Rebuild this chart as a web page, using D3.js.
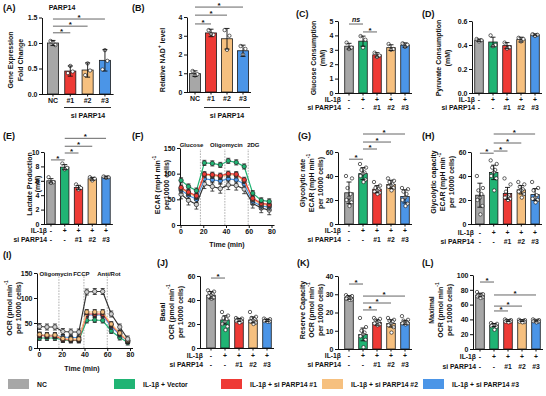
<!DOCTYPE html>
<html><head><meta charset="utf-8">
<script src="https://cdn.jsdelivr.net/npm/d3@7"></script>
<style>
body{margin:0;background:#fff}
svg text{font-family:"Liberation Sans",Arial,Helvetica,sans-serif;font-weight:bold;fill:#111}
</style></head>
<body><svg id="chart" width="546" height="396"></svg>
<script>
// ================= DATA =================
const groupNames = ["NC", "IL-1β + Vector", "IL-1β + si PARP14 #1", "IL-1β + si PARP14 #2", "IL-1β + si PARP14 #3"];
const groupColors = ["#a7a7a7", "#20b474", "#ee3a35", "#f6c07f", "#4b95e7"];
const il1bRow = ["-", "+", "+", "+", "+"];
const siRow = ["-", "-", "#1", "#2", "#3"];

// (A) PARP14 expression
const A_cats = ["NC", "#1", "#2", "#3"];
const A_mean = [1.00, 0.45, 0.47, 0.66];
const A_sd = [0.05, 0.10, 0.14, 0.21];
const A_pts = [[1.04, 0.96, 1.01], [0.41, 0.44, 0.55], [0.37, 0.46, 0.60], [0.48, 0.65, 0.86]];
const A_ticks = [0, 0.5, 1.0, 1.5];
const A_sig = [[0, 1, 1.20, "*"], [0, 2, 1.33, "*"], [0, 3, 1.47, "*"]];

// (B) NAD+
const B_mean = [0.98, 3.15, 2.84, 2.2];
const B_sd = [0.15, 0.2, 0.55, 0.3];
const B_pts = [[1.12, 0.95, 0.88], [3.3, 3.05, 3.1], [3.3, 3.0, 2.25], [2.45, 2.3, 2.0]];
const B_ticks = [0, 1, 2, 3, 4];
const B_sig = [[0, 1, 3.63, "*"], [0, 2, 4.1, "*"], [0, 3, 4.53, "*"]];

// (C) Glucose consumption
const C_mean = [3.25, 3.6, 2.65, 3.15, 3.33];
const C_sd = [0.2, 0.35, 0.15, 0.2, 0.15];
const C_pts = [[3.5, 3.15, 3.05], [3.95, 3.7, 3.15], [2.8, 2.6, 2.5], [3.4, 3.05, 3.0], [3.45, 3.35, 3.2]];
const C_ticks = [0, 1, 2, 3, 4, 5];
const C_sig = [[0, 1, 4.79, "ns"], [1, 2, 4.24, "*"]];

// (D) Pyruvate consumption
const D_mean = [0.44, 0.425, 0.395, 0.445, 0.485];
const D_sd = [0.01, 0.04, 0.025, 0.02, 0.008];
const D_pts = [[0.45, 0.44, 0.43], [0.48, 0.40, 0.39], [0.42, 0.38, 0.37], [0.46, 0.45, 0.43], [0.49, 0.485, 0.475]];
const D_ticks = [0, 0.2, 0.4, 0.6];

// (E) Lactate production
const E_mean = [6.0, 7.9, 5.07, 6.28, 6.5];
const E_sd = [0.3, 0.35, 0.3, 0.2, 0.15];
const E_pts = [[6.5, 5.8, 5.7], [8.4, 7.8, 7.6], [5.5, 5.0, 4.8], [6.5, 6.3, 6.05], [6.6, 6.5, 6.4]];
const E_ticks = [0, 2, 4, 6, 8, 10];
const E_sig = [[0, 1, 8.9, "*"], [1, 2, 9.86, "*"], [1, 3, 10.8, "*"], [1, 4, 11.9, "*"]];

// (F) ECAR time course
const F_times = [0.5, 7, 14, 21, 28, 35, 42, 49, 56, 63.5, 71, 78];
const F_series = [
  [60, 48, 40, 80, 75, 71, 78, 77, 70, 42, 33, 29],     // NC
  [87, 75, 67, 121, 120, 117, 125, 122, 114, 62, 48, 46], // IL-1β + Vector
  [73, 64, 57, 99, 98, 96, 100, 99, 88, 52, 42, 40],   // #1
  [71, 62, 55, 97, 96, 94, 98, 97, 86, 50, 40, 38],    // #2
  [68, 58, 50, 90, 88, 86, 90, 88, 80, 46, 37, 35]     // #3
];
const F_sd = [9, 5, 5, 5, 6];
const F_inj = [17.5, 39, 59.5];
const F_injNames = ["Glucose", "Oligomycin", "2DG"];
const F_xticks = [0, 20, 40, 60, 80];
const F_yticks = [0, 50, 100, 150];

// (G) Glycolytic rate
const G_mean = [26, 42, 29, 33, 23];
const G_sd = [9, 5, 3, 3.5, 5.5];
const G_pts = [[40, 38, 30, 25, 22, 20, 18, 15], [50, 47, 45, 43, 42, 40, 37, 35], [35, 32, 30, 29, 28, 27, 26, 25],
               [38, 36, 35, 33, 32, 31, 30, 28], [30, 29, 27, 25, 22, 20, 17, 15]];
const G_ticks = [0, 20, 40, 60];
const G_sig = [[0, 1, 54, "*"], [1, 2, 62.5, "*"], [1, 3, 68.3, "*"], [1, 4, 75, "*"]];

// (H) Glycolytic capacity
const H_mean = [24, 43, 25.5, 28.5, 24.5];
const H_sd = [10, 6, 5, 3.5, 5];
const H_pts = [[40, 30, 28, 25, 22, 20, 15, 8], [53, 50, 47, 45, 43, 40, 38, 28], [38, 33, 27, 24, 23, 22, 21, 20],
               [35, 33, 31, 29, 28, 27, 25, 22], [35, 30, 28, 24, 22, 21, 20, 18]];
const H_ticks = [0, 20, 40, 60];
const H_sig = [[0, 1, 59, "*"], [1, 2, 60.8, "*"], [1, 3, 67.5, "*"], [1, 4, 75, "*"]];

// (I) OCR time course
const I_times = F_times;
const I_series = [
  [43, 42, 42, 33, 32, 32, 112, 113, 113, 68, 42, 18],
  [20, 20, 20, 16, 15, 15, 55, 56, 55, 34, 21, 11],
  [25, 24, 24, 17, 16, 16, 68, 68, 68, 46, 29, 14],
  [27, 26, 26, 19, 18, 18, 72, 72, 72, 48, 30, 15],
  [26, 25, 25, 22, 21, 21, 66, 66, 66, 43, 27, 14]
];
const I_sd = [6, 5, 5, 5, 5];
const I_inj = [17.5, 39.5, 60];
const I_injNames = ["Oligomycin", "FCCP", "Anti/Rot"];

// (J) Basal OCR
const J_mean = [44, 23.4, 23.4, 23.4, 22.9];
const J_sd = [3, 3.5, 1.2, 2.5, 0.8];
const J_pts = [[48, 47, 46, 45, 44, 43, 42, 41], [30, 27, 25, 24, 22, 20, 18, 15], [25, 24.5, 24, 23.5, 23, 22.5, 22, 21],
               [30, 26, 25, 24, 23, 22, 21, 20], [24.5, 24, 23.5, 23, 23, 22.5, 22, 22]];
const J_ticks = [0, 20, 40, 60];
const J_sig = [[0, 1, 58.3, "*"]];

// (K) Reserve capacity
const K_mean = [28.2, 8, 14.5, 14, 14.5];
const K_sd = [1, 3.5, 1.5, 2, 1];
const K_pts = [[29.5, 29, 28.5, 28, 28, 27.5, 27, 27], [17, 12, 10, 9, 8, 7, 5, 1], [17, 16.5, 16, 15, 14.5, 14, 13.5, 13],
               [17, 16, 15.5, 15, 14, 13, 12, 9], [18, 16, 15.5, 15, 14.5, 14, 14, 13.5]];
const K_ticks = [0, 10, 20, 30, 40];
const K_sig = [[0, 1, 35.6, "*"], [1, 2, 21.4, "*"], [1, 3, 25.2, "*"], [1, 4, 29, "*"]];

// (L) Maximal OCR
const L_mean = [73, 32.4, 38.3, 38.3, 37.8];
const L_sd = [2.5, 2, 1.2, 1.2, 1.2];
const L_pts = [[77, 74, 73, 72, 72, 71, 70, 69], [35, 34, 33, 32, 32, 31, 30, 26], [40, 39, 38.5, 38, 37.5, 37, 37, 36],
               [39.5, 39, 38, 38, 37.5, 37, 36.5, 36], [40, 39, 38.5, 38, 38, 37.5, 37, 36]];
const L_ticks = [0, 20, 40, 60, 80, 100];
const L_sig = [[0, 1, 90.5, "*"], [1, 2, 51.4, "*"], [1, 3, 58, "*"], [1, 4, 73, "*"]];

// ================= DRAWING =================
const svg = d3.select("#chart");
const JIT3 = [-2.4, 2.4, 0];
const JIT8 = [-3, 3, -1.5, 1.5, 0, -2.5, 2.5, 0.5];

function rich(sel, str, size) {
  const parts = str.split(/(\^\{[^}]*\})/).filter(p => p);
  let up = false;
  parts.forEach(p => {
    const m = p.match(/^\^\{([^}]*)\}$/);
    if (m) { sel.append("tspan").attr("dy", -size * 0.38).style("font-size", (size * 0.7) + "px").text(m[1]); up = true; }
    else { const t = sel.append("tspan").text(p); if (up) { t.attr("dy", size * 0.38); up = false; } }
  });
}
function tag(t, x, y) {
  svg.append("text").attr("x", x).attr("y", y).style("font-size", "9px").text(t);
}
function yLabel(xs, cy, lines, size = 7) {
  lines.forEach((s, i) => {
    const t = svg.append("text").attr("transform", `translate(${xs[i]},${cy}) rotate(-90)`)
      .attr("text-anchor", "middle").attr("dominant-baseline", "central").style("font-size", size + "px");
    rich(t, s, size);
  });
}
function styleAxis(a) {
  a.selectAll(".domain").attr("stroke", "#111").attr("stroke-width", 1);
  a.selectAll(".tick line").attr("stroke", "#111").attr("stroke-width", 1);
  a.selectAll(".tick text").style("font-size", "7px").attr("fill", "#111");
}

function barPanel(L, D) {
  const g = svg.append("g");
  const n = D.mean.length;
  const y = d3.scaleLinear().domain([0, D.max]).range([L.y0, L.y1]);
  const x = d3.scaleBand().domain(d3.range(n)).range([L.r0, L.r1]).paddingInner(L.pad).paddingOuter(L.pad / 2);
  const bw = x.bandwidth(), cx = i => x(i) + bw / 2;
  const cols = D.colors;
  g.selectAll("rect").data(D.mean).join("rect")
    .attr("x", (d, i) => x(i)).attr("y", d => y(d)).attr("width", bw).attr("height", d => L.y0 - y(d))
    .attr("fill", (d, i) => cols[i]).attr("stroke", "#1a1a1a").attr("stroke-width", 0.8);
  D.pts.forEach((arr, i) => arr.forEach((v, j) => {
    const jit = arr.length === 3 ? JIT3 : JIT8;
    g.append("circle").attr("cx", cx(i) + jit[j % jit.length]).attr("cy", y(v)).attr("r", 1.7)
      .attr("fill", "#fff").attr("stroke", "#222").attr("stroke-width", 0.7);
  }));
  D.mean.forEach((m, i) => {
    const t = y(m + D.sd[i]), b = y(Math.max(0, m - D.sd[i]));
    g.append("line").attr("x1", cx(i)).attr("x2", cx(i)).attr("y1", t).attr("y2", b).attr("stroke", "#111").attr("stroke-width", 0.9);
    [t, b].forEach(yy => g.append("line").attr("x1", cx(i) - 2.5).attr("x2", cx(i) + 2.5).attr("y1", yy).attr("y2", yy).attr("stroke", "#111").attr("stroke-width", 0.9));
  });
  const ya = g.append("g").attr("transform", `translate(${L.ax},0)`)
    .call(d3.axisLeft(y).tickValues(D.ticks).tickSize(3).tickSizeOuter(0).tickPadding(1.5).tickFormat(d3.format(D.fmt)));
  const xa = g.append("g").attr("transform", `translate(0,${L.y0})`)
    .call(d3.axisBottom(x).tickSize(2.5).tickSizeOuter(0).tickPadding(1.5).tickFormat(L.cats ? (i => L.cats[i]) : ""));
  xa.select(".domain").attr("d", `M${L.ax},0.5H${L.r1}`);
  styleAxis(ya); styleAxis(xa);
  if (L.rowY) {
    [["IL-1β", il1bRow], ["si PARP14", siRow]].forEach(([name, vals], r) => {
      const yy = L.rowY[r];
      g.append("text").attr("x", L.ax + 3).attr("y", yy).attr("text-anchor", "end").style("font-size", "6.8px").text(name);
      vals.forEach((v, i) => g.append("text").attr("x", cx(i)).attr("y", yy).attr("text-anchor", "middle").style("font-size", "6.8px").text(v));
    });
  }
  (D.sig || []).forEach(([a, b, lv, s]) => {
    const yy = y(lv);
    g.append("line").attr("x1", cx(a)).attr("x2", cx(b)).attr("y1", yy).attr("y2", yy).attr("stroke", "#666").attr("stroke-width", 1);
    const t = g.append("text").attr("x", (cx(a) + cx(b)) / 2).attr("text-anchor", "middle");
    if (s === "ns") t.attr("y", yy - 1.8).style("font-size", "7px").style("font-style", "italic").text(s);
    else t.attr("y", yy + 1).style("font-size", "8px").text(s);
  });
  return { g, x, y, cx };
}

function linePanel(L, D) {
  const g = svg.append("g");
  const x = d3.scaleLinear().domain([0, 80]).range([L.x0, L.x1]);
  const y = d3.scaleLinear().domain([0, 150]).range([L.y0, L.y1]);
  D.inj.forEach(t => g.append("line").attr("x1", x(t)).attr("x2", x(t)).attr("y1", L.y0).attr("y2", L.y1 + 1)
    .attr("stroke", "#9a9a9a").attr("stroke-width", 0.8).attr("stroke-dasharray", "1.6,1.2"));
  D.names.forEach((s, i) => g.append("text").attr("x", x(L.labAt[i])).attr("y", L.labY).attr("text-anchor", "middle")
    .style("font-size", "6px").text(s));
  const ya = g.append("g").attr("transform", `translate(${L.ax},0)`)
    .call(d3.axisLeft(y).tickValues(F_yticks).tickSize(3).tickSizeOuter(0).tickPadding(1.5));
  const xa = g.append("g").attr("transform", `translate(0,${L.y0})`)
    .call(d3.axisBottom(x).tickValues(F_xticks).tickSize(3).tickSizeOuter(0).tickPadding(1.5));
  xa.select(".domain").attr("d", `M${L.ax},0.5H${L.x1 + 3}`);
  styleAxis(ya); styleAxis(xa);
  g.append("text").attr("x", L.timeX).attr("y", L.timeY).attr("text-anchor", "middle").style("font-size", "7px").text("Time (min)");
  const line = d3.line().x((d, i) => x(D.times[i])).y(d => y(d));
  D.order.forEach(k => {
    const vals = D.series[k];
    const lc = k === 0 ? "#333" : groupColors[k];
    const mc = k === 0 ? "#d0d0d0" : groupColors[k];
    g.append("path").attr("d", line(vals)).attr("fill", "none").attr("stroke", lc).attr("stroke-width", 1.2);
    vals.forEach((v, i) => {
      const xx = x(D.times[i]), t = y(v + D.sd[k]), b = y(v - D.sd[k]);
      g.append("line").attr("x1", xx).attr("x2", xx).attr("y1", t).attr("y2", b).attr("stroke", "#222").attr("stroke-width", 0.8);
      [t, b].forEach(yy => g.append("line").attr("x1", xx - 2).attr("x2", xx + 2).attr("y1", yy).attr("y2", yy).attr("stroke", "#222").attr("stroke-width", 0.8));
    });
    vals.forEach((v, i) => g.append("circle").attr("cx", x(D.times[i])).attr("cy", y(v)).attr("r", 2.2)
      .attr("fill", mc).attr("stroke", "#222").attr("stroke-width", 0.7));
  });
}

const col4 = [groupColors[0], groupColors[2], groupColors[3], groupColors[4]];

// ---- Row 1 ----
tag("(A)", 3, 11);
svg.append("text").attr("x", 62).attr("y", 9.5).attr("text-anchor", "middle").style("font-size", "7px").text("PARP14");
yLabel([10, 20], 60, ["Gene Expression", "Fold Change"]);
barPanel({ ax: 42, y0: 94, y1: 17.5, r0: 44.3, r1: 113.6, pad: 0.36, cats: A_cats },
  { mean: A_mean, sd: A_sd, pts: A_pts, max: 1.5, ticks: A_ticks, fmt: ".1f", colors: col4, sig: A_sig });
svg.append("line").attr("x1", 64).attr("x2", 111).attr("y1", 107.5).attr("y2", 107.5).attr("stroke", "#111").attr("stroke-width", 0.9);
svg.append("text").attr("x", 88).attr("y", 117.5).attr("text-anchor", "middle").style("font-size", "7px").text("si PARP14");

tag("(B)", 132, 11);
yLabel([162], 60, ["Relative NAD^{+} level"]);
barPanel({ ax: 187, y0: 92, y1: 17, r0: 187, r1: 251, pad: 0.31, cats: A_cats },
  { mean: B_mean, sd: B_sd, pts: B_pts, max: 4, ticks: B_ticks, fmt: "d", colors: col4, sig: B_sig });
svg.append("line").attr("x1", 204).attr("x2", 250).attr("y1", 107.5).attr("y2", 107.5).attr("stroke", "#111").attr("stroke-width", 0.9);
svg.append("text").attr("x", 227).attr("y", 117.5).attr("text-anchor", "middle").style("font-size", "7px").text("si PARP14");

tag("(C)", 296, 17);
yLabel([313, 322], 58, ["Glucose Consumption", "(mM)"]);
barPanel({ ax: 338, y0: 93, y1: 21, r0: 342, r1: 412, pad: 0.39, rowY: [102, 110] },
  { mean: C_mean, sd: C_sd, pts: C_pts, max: 5, ticks: C_ticks, fmt: "d", colors: groupColors, sig: C_sig });

tag("(D)", 422, 17);
yLabel([438, 447], 58, ["Pyruvate Consumption", "(mM)"]);
barPanel({ ax: 472, y0: 93, y1: 21, r0: 472, r1: 542, pad: 0.39, rowY: [102, 110] },
  { mean: D_mean, sd: D_sd, pts: D_pts, max: 0.6, ticks: D_ticks, fmt: ".1f", colors: groupColors, sig: [] });

// ---- Row 2 ----
tag("(E)", 3, 138.5);
yLabel([29, 37], 184, ["Lactate Production", "(mM)"]);
barPanel({ ax: 44, y0: 224, y1: 152, r0: 44.1, r1: 112.9, pad: 0.39, rowY: [232.5, 241.5] },
  { mean: E_mean, sd: E_sd, pts: E_pts, max: 10, ticks: E_ticks, fmt: "d", colors: groupColors, sig: E_sig });

tag("(F)", 132, 138.5);
yLabel([157, 166], 185, ["ECAR (mpH min^{-1}", "per10000 cells)"]);
linePanel({ ax: 180, x0: 180.5, x1: 271.5, y0: 225, y1: 148, labAt: [9.7, 40.4, 64], labY: 146.5, timeX: 227, timeY: 247 },
  { times: F_times, series: F_series, sd: F_sd, inj: F_inj, names: F_injNames, order: [0, 4, 3, 2, 1] });

tag("(G)", 298, 138.5);
yLabel([302, 311, 320], 183, ["Glycolytic rate", "ECAR (mpH min^{-1}", "per 10000 cells)"]);
barPanel({ ax: 338, y0: 224, y1: 152, r0: 342, r1: 412, pad: 0.39, rowY: [232.5, 241.5] },
  { mean: G_mean, sd: G_sd, pts: G_pts, max: 60, ticks: G_ticks, fmt: "d", colors: groupColors, sig: G_sig });

tag("(H)", 422, 138.5);
yLabel([433, 442, 451], 182, ["Glycolytic capacity", "ECAR (mpH min^{-1}", "per 10000 cells)"]);
barPanel({ ax: 471, y0: 224, y1: 152, r0: 473, r1: 542, pad: 0.39, rowY: [235, 244] },
  { mean: H_mean, sd: H_sd, pts: H_pts, max: 60, ticks: H_ticks, fmt: "d", colors: groupColors, sig: H_sig });

// ---- Row 3 ----
tag("(I)", 3, 257.5);
yLabel([9, 18], 308, ["OCR (pmol min^{-1}", "per 10000 cells)"]);
linePanel({ ax: 37, x0: 39, x1: 130, y0: 348, y1: 273, labAt: [14.8, 37.2, 61.5], labY: 275.5, timeX: 82, timeY: 371 },
  { times: I_times, series: I_series, sd: I_sd, inj: I_inj, names: I_injNames, order: [1, 4, 2, 3, 0] });

tag("(J)", 157, 265.5);
yLabel([162, 171, 180], 312, ["Basal", "OCR (pmol min^{-1}", "per 10000 cells)"]);
barPanel({ ax: 200, y0: 348, y1: 276, r0: 204, r1: 274, pad: 0.39, rowY: [357.5, 367] },
  { mean: J_mean, sd: J_sd, pts: J_pts, max: 60, ticks: J_ticks, fmt: "d", colors: groupColors, sig: J_sig });

tag("(K)", 297, 265.5);
yLabel([302, 311, 320], 310, ["Reserve Capacity", "OCR (pmol min^{-1}", "per 10000 cells)"]);
barPanel({ ax: 338, y0: 349, y1: 276, r0: 342, r1: 412, pad: 0.39, rowY: [357.5, 367] },
  { mean: K_mean, sd: K_sd, pts: K_pts, max: 40, ticks: K_ticks, fmt: "d", colors: groupColors, sig: K_sig });

tag("(L)", 422, 265.5);
yLabel([431, 440, 449], 310, ["Maximal", "OCR (pmol min^{-1}", "per 10000 cells)"]);
barPanel({ ax: 473, y0: 349, y1: 275, r0: 473, r1: 543, pad: 0.39, rowY: [359, 368.5] },
  { mean: L_mean, sd: L_sd, pts: L_pts, max: 100, ticks: L_ticks, fmt: "d", colors: groupColors, sig: L_sig });

// ---- Legend ----
const legX = [8, 114, 221, 322, 423];
groupNames.forEach((name, i) => {
  svg.append("rect").attr("x", legX[i]).attr("y", 379).attr("width", 21).attr("height", 10).attr("fill", groupColors[i]);
  svg.append("text").attr("x", legX[i] + 29).attr("y", 386.5).style("font-size", "6.8px").text(name);
});
</script></body></html>
